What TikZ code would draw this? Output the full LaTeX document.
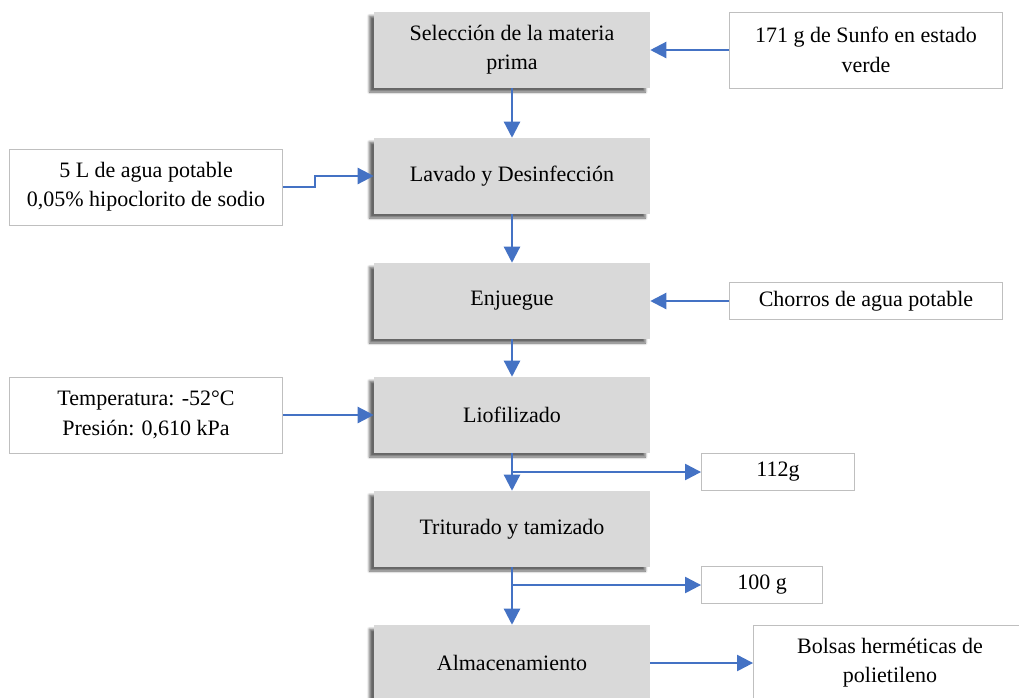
\documentclass[tikz,border=0pt]{standalone}
\usepackage{fontspec}
\setmainfont{Liberation Serif}
\usetikzlibrary{arrows.meta,shadows.blur}
\definecolor{azul}{HTML}{4472C4}
\definecolor{gris}{HTML}{D9D9D9}
\tikzset{
  proceso/.style={fill=gris, inner sep=0pt, minimum width=207pt, minimum height=57pt, align=center,
    blur shadow={shadow xshift=-3.5pt, shadow yshift=-3pt, shadow blur steps=6, shadow opacity=60}},
  entrada/.style={draw=black!25, fill=white, inner sep=0pt, minimum width=205pt, minimum height=57pt, align=center},
  flecha/.style={-{Triangle[length=12pt,width=12pt]}, draw=azul, line width=1.7pt}
}
\begin{document}
\begin{tikzpicture}[x=0.75pt,y=-0.75pt,font=\fontsize{16.5}{22}\selectfont]
\useasboundingbox (0,0) rectangle (1019,697);
% etapas del proceso
\node [proceso] (sel) at (512,50) {Selección de la materia\\prima};
\node [proceso] (lav) at (512,176) {Lavado y Desinfección};
\node [proceso] (enj) at (512,301) {Enjuegue};
\node [proceso] (lio) at (512,415) {Liofilizado};
\node [proceso] (tri) at (512,529) {Triturado y tamizado};
\node [proceso] (alm) at (512,663) {Almacenamiento};
% entradas y salidas
\node [entrada] (sunfo) at (866,50) {171 g de Sunfo en estado\\verde};
\node [entrada] (agua) at (146,187) {5 L de agua potable\\0,05\% hipoclorito de sodio};
\node [entrada, minimum height=28pt] (chorro) at (866,301) {Chorros de agua potable};
\node [entrada] (cond) at (146,415) {Temperatura: -52°C\\Presión: 0,610 kPa};
\node [entrada, minimum width=115pt, minimum height=28pt] (g112) at (778,472) {112g};
\node [entrada, minimum width=91pt, minimum height=28pt] (g100) at (762,585) {100 g};
\node [entrada] (bolsa) at (890,663) {Bolsas herméticas de\\polietileno};
% flechas
\foreach \a/\b in {sel/lav,lav/enj,enj/lio,lio/tri,tri/alm} {\draw [flecha] (\a) -- (\b);}
\draw [flecha] (sunfo) -- (sel);
\draw [flecha] (agua.east) -- ++(32,0) |- (lav.west);
\draw [flecha] (chorro) -- (enj);
\draw [flecha] (cond) -- (lio);
\draw [flecha] (lio.south |- g112.west) -- (g112.west);
\draw [flecha] (tri.south |- g100.west) -- (g100.west);
\draw [flecha] (alm) -- (bolsa);
\end{tikzpicture}
\end{document}
